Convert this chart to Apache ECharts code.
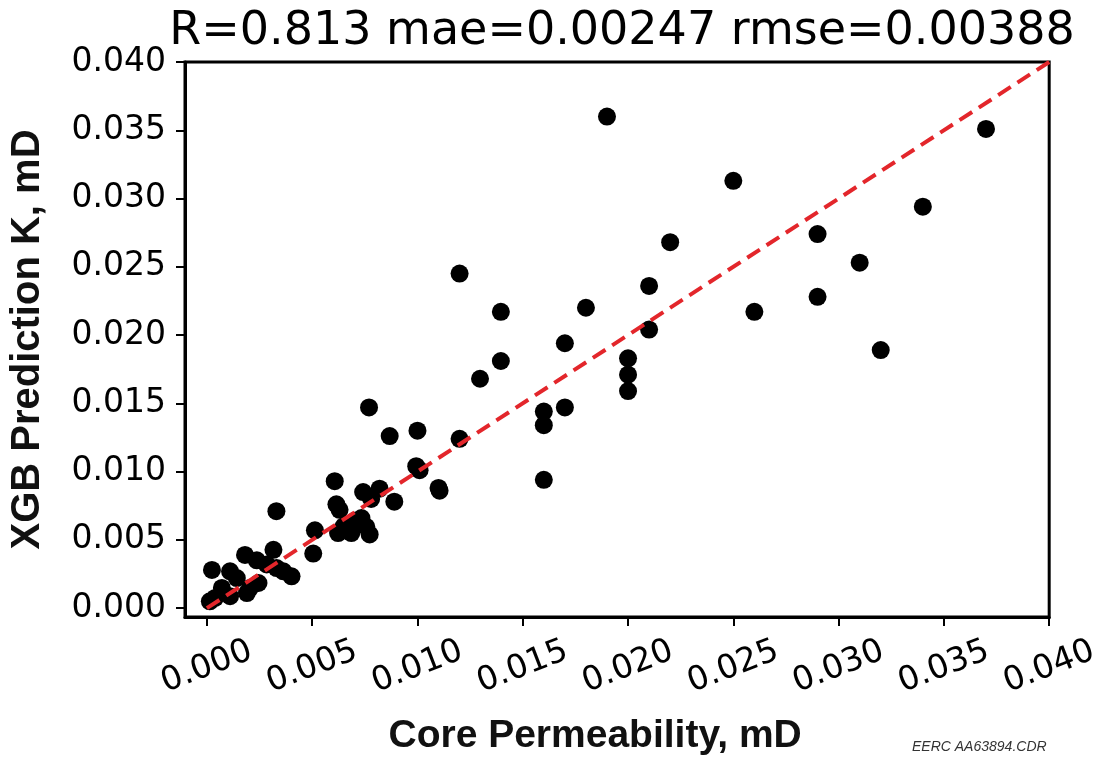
<!DOCTYPE html>
<html>
<head>
<meta charset="utf-8">
<script src="https://cdn.jsdelivr.net/npm/echarts@6/dist/echarts.min.js"></script>
<style>
  html, body { margin: 0; padding: 0; background: #fff; }
  #chart { width: 1102px; height: 761px; }
</style>
</head>
<body>
<div id="chart"></div>
<script>
const coreK = [
  0.00024, 0.00181, 0.00237, 0.00316, 0.00110, 0.00142, 0.00071, 0.00110, 0.00039, 0.00205,
  0.00245, 0.00331, 0.00402, 0.00363, 0.00190, 0.00284, 0.00014, 0.00330, 0.00505, 0.00513,
  0.00607, 0.00615, 0.00742, 0.00820, 0.00780, 0.00890, 0.00623, 0.00686, 0.00757, 0.00734,
  0.00773, 0.00702, 0.00650, 0.00630, 0.00770, 0.00868, 0.01000, 0.00994, 0.01010, 0.01100,
  0.01105, 0.01200, 0.01200, 0.01396, 0.01396, 0.01297, 0.01600, 0.01600, 0.01700, 0.01600,
  0.01700, 0.01800, 0.01900, 0.02000, 0.02000, 0.02000, 0.02100, 0.02100, 0.02200, 0.02500,
  0.02600, 0.02900, 0.02900, 0.03100, 0.03200, 0.03400, 0.03700
];
const predK = [
  0.00280, 0.00390, 0.00350, 0.00427, 0.00270, 0.00220, 0.00148, 0.00087, 0.00075, 0.00148,
  0.00184, 0.00293, 0.00233, 0.00270, 0.00110, 0.00320, 0.00050, 0.00710, 0.00400, 0.00570,
  0.00930, 0.00760, 0.00850, 0.00875, 0.00800, 0.00780, 0.00550, 0.00550, 0.00596, 0.00660,
  0.00540, 0.00640, 0.00600, 0.00720, 0.01470, 0.01260, 0.01300, 0.01040, 0.01010, 0.00880,
  0.00860, 0.01240, 0.02450, 0.02170, 0.01810, 0.01680, 0.01440, 0.01340, 0.01470, 0.00940,
  0.01940, 0.02200, 0.03600, 0.01830, 0.01710, 0.01590, 0.02040, 0.02360, 0.02680, 0.03130,
  0.02170, 0.02740, 0.02280, 0.02530, 0.01890, 0.02940, 0.03510
];
const tickValues = [0, 0.005, 0.01, 0.015, 0.02, 0.025, 0.03, 0.035, 0.04];
const identityLine = [[0, 0], [0.04, 0.04]];

const titleText = 'R=0.813 mae=0.00247 rmse=0.00388';

const points = coreK.map((x, i) => [x, predK[i]]);

const chart = echarts.init(document.getElementById('chart'));
chart.setOption({
  backgroundColor: '#fff',
  animation: false,
  title: {
    text: titleText,
    left: 617,
    textAlign: 'center',
    top: 4,
    textStyle: { fontFamily: 'DejaVu Sans', fontSize: 46, fontWeight: 'normal', color: '#000' }
  },
  grid: {
    left: 183, right: 52, top: 62, bottom: 140,
    show: true, borderColor: '#000', borderWidth: 3, backgroundColor: '#fff'
  },
  xAxis: {
    type: 'value',
    min: -0.00104, max: 0.04,
    name: 'Core Permeability, mD',
    nameLocation: 'middle',
    nameGap: 100,
    nameTextStyle: {
      fontFamily: 'Liberation Sans', fontWeight: 'bold', fontSize: 39, color: '#111',
      padding: [0, 44, 0, 0]
    },
    splitLine: { show: false },
    axisLine: { show: true, onZero: false, lineStyle: { color: '#000', width: 3 } },
    axisTick: { show: true, length: 9, customValues: tickValues, lineStyle: { color: '#000', width: 2 } },
    axisLabel: {
      customValues: tickValues,
      rotate: 21, align: 'center', verticalAlign: 'middle', margin: 50,
      fontFamily: 'DejaVu Sans', fontSize: 33, color: '#000',
      formatter: v => v.toFixed(3)
    }
  },
  yAxis: {
    type: 'value',
    min: -0.00065, max: 0.04,
    name: 'XGB Prediction K, mD',
    nameLocation: 'middle',
    nameGap: 137,
    nameTextStyle: { fontFamily: 'Liberation Sans', fontWeight: 'bold', fontSize: 40, color: '#111' },
    splitLine: { show: false },
    axisLine: { show: true, onZero: false, lineStyle: { color: '#000', width: 3 } },
    axisTick: { show: true, length: 9, customValues: tickValues, lineStyle: { color: '#000', width: 2 } },
    axisLabel: {
      customValues: tickValues,
      margin: 19,
      fontFamily: 'DejaVu Sans', fontSize: 33, color: '#000',
      formatter: v => v.toFixed(3)
    }
  },
  series: [
    {
      type: 'scatter',
      data: points,
      symbolSize: 18,
      itemStyle: { color: '#000', opacity: 1 },
      z: 2
    },
    {
      type: 'line',
      data: identityLine,
      symbol: 'none',
      lineStyle: { color: '#e3262b', width: 4, type: [15, 8] },
      z: 3
    }
  ],
  graphic: [{
    type: 'text',
    left: 912, top: 740,
    style: { text: 'EERC AA63894.CDR', fontFamily: 'Liberation Sans', fontStyle: 'italic', fontSize: 14, fill: '#333' }
  }]
});
</script>
</body>
</html>
